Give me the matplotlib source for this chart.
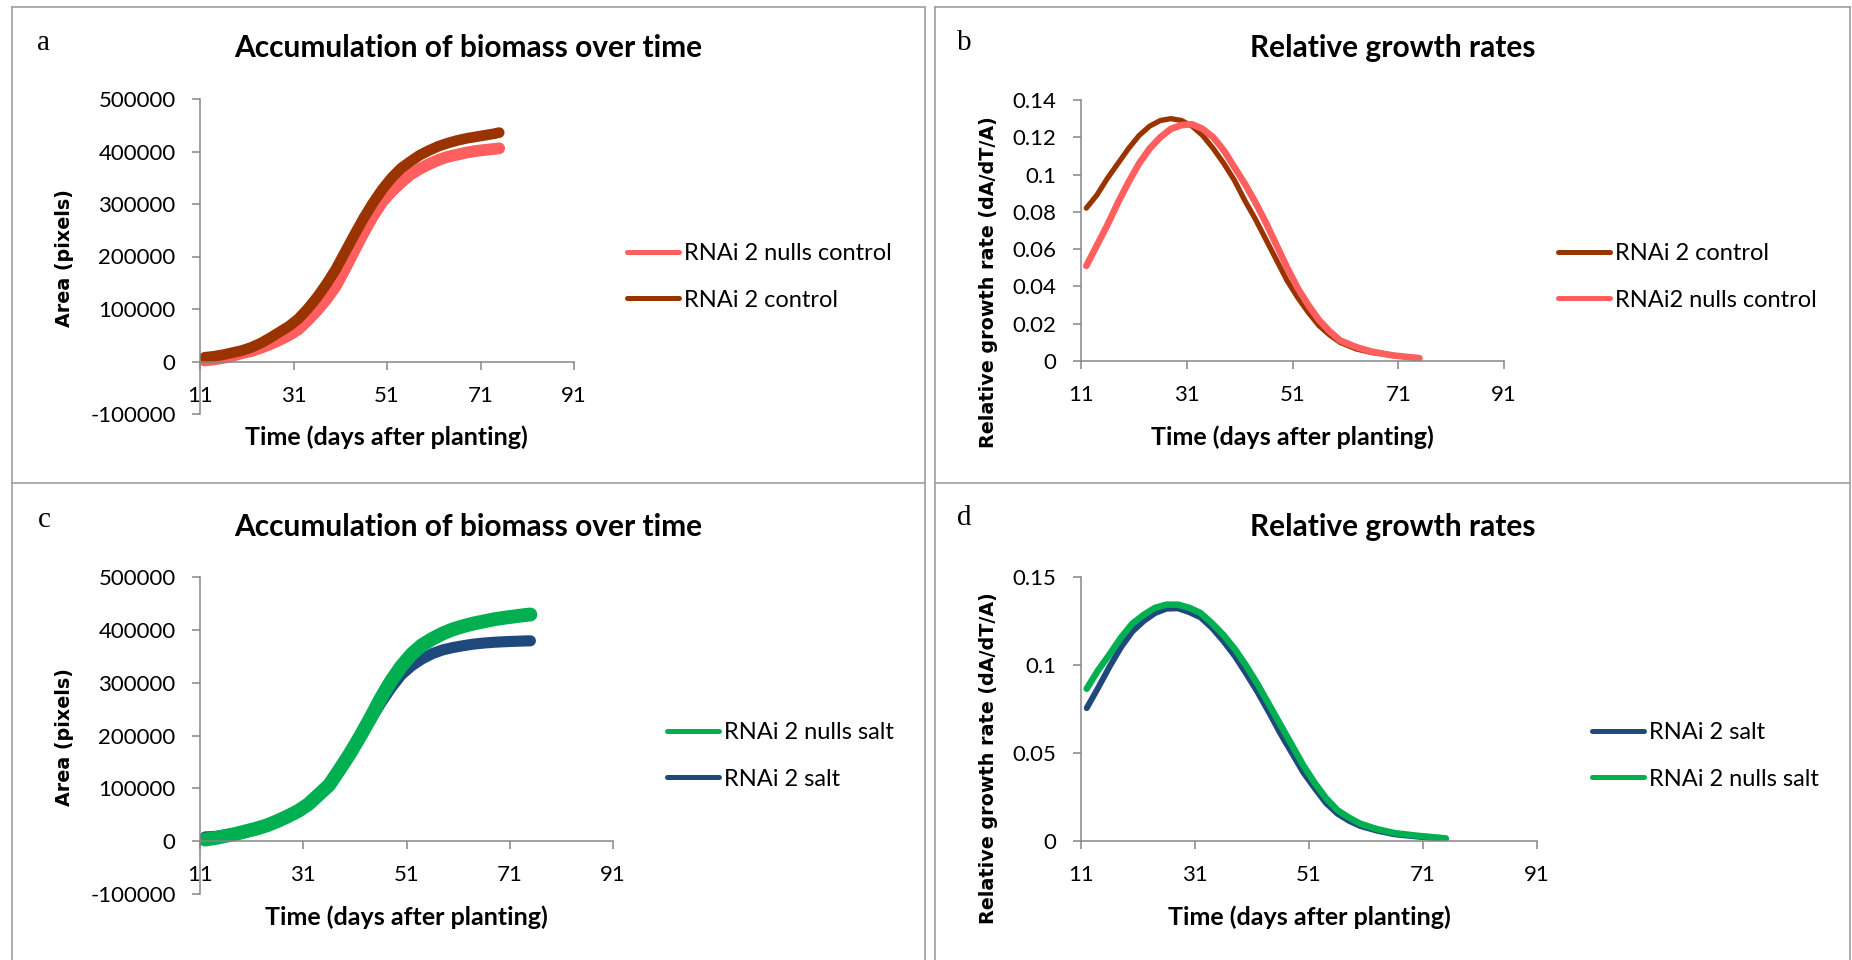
import matplotlib
matplotlib.use("Agg")
import matplotlib.pyplot as plt
from matplotlib.lines import Line2D

plt.rcParams['font.family'] = ['Lato', 'DejaVu Sans']

W, H = 1852, 960

# panel a - biomass, control
days_a = [12, 14, 16, 18, 20, 22, 24, 26, 28, 30, 32, 34, 36, 38, 40, 42, 44, 46, 48, 50,
          52, 54, 56, 58, 60, 62, 64, 66, 68, 70, 72, 74, 75]
area_nulls_control = [2000, 4000, 7000, 11000, 16000, 20000, 26000, 33000, 41000, 50000,
                      61000, 78000, 97000, 118000, 143000, 176000, 211000, 245000, 277000,
                      304000, 324000, 341000, 356000, 367000, 376000, 384000, 390000, 394000,
                      398000, 401000, 403000, 405000, 406000]
area_control = [8000, 10000, 13000, 17000, 21000, 27000, 35000, 45000, 56000, 67000, 81000,
                100000, 122000, 147000, 175000, 208000, 241000, 273000, 302000, 328000,
                350000, 368000, 381000, 393000, 402000, 410000, 416000, 421000, 425000,
                428000, 431000, 434000, 436000]

# panel b - relative growth rate, control
days_b = [12, 14, 16, 18, 20, 22, 24, 26, 28, 30, 32, 34, 36, 38, 40, 42, 44, 46, 48, 50,
          52, 54, 56, 58, 60, 63, 66, 70, 75]
rgr_control = [0.082, 0.089, 0.098, 0.106, 0.114, 0.121, 0.126, 0.129, 0.130, 0.129, 0.126,
               0.121, 0.114, 0.106, 0.097, 0.086, 0.076, 0.065, 0.054, 0.043, 0.034, 0.026,
               0.019, 0.014, 0.010, 0.0065, 0.0045, 0.003, 0.0015]
rgr_nulls_control = [0.051, 0.062, 0.073, 0.085, 0.096, 0.106, 0.114, 0.120, 0.1245, 0.1265,
                     0.127, 0.1245, 0.120, 0.113, 0.104, 0.095, 0.085, 0.074, 0.062, 0.050,
                     0.039, 0.030, 0.022, 0.016, 0.011, 0.0075, 0.005, 0.003, 0.0015]

# panel c - biomass, salt
days_c = [12, 14, 16, 18, 20, 22, 24, 26, 28, 30, 32, 34, 36, 38, 40, 42, 44, 46, 48, 50,
          52, 54, 56, 58, 60, 62, 64, 66, 68, 70, 72, 74, 75]
area_nulls_salt = [3000, 6000, 10000, 14000, 19000, 24000, 30000, 38000, 47000, 57000, 70000,
                   88000, 106000, 135000, 165000, 198000, 233000, 270000, 303000, 331000,
                   354000, 371000, 383000, 393000, 401000, 407000, 412000, 416000, 420000,
                   423000, 425500, 428000, 429000]
area_salt = [8000, 9000, 12000, 15000, 19000, 24000, 30000, 38000, 47000, 57000, 70000, 88000,
             106000, 133000, 163000, 196000, 229000, 261000, 290000, 315000, 332000, 345000,
             355000, 362000, 366500, 370000, 373000, 375000, 376500, 377500, 378300, 379000,
             379200]

# panel d - relative growth rate, salt
days_d = [12, 14, 16, 18, 20, 22, 24, 26, 28, 30, 32, 34, 36, 38, 40, 42, 44, 46, 48, 50,
          52, 54, 56, 58, 60, 63, 66, 70, 75]
rgr_salt = [0.0755, 0.087, 0.099, 0.110, 0.119, 0.125, 0.1295, 0.132, 0.1322, 0.130, 0.127,
            0.121, 0.1135, 0.105, 0.095, 0.0845, 0.073, 0.061, 0.050, 0.039, 0.030, 0.0215,
            0.0155, 0.0115, 0.0085, 0.0058, 0.0038, 0.0025, 0.0012]
rgr_nulls_salt = [0.0865, 0.097, 0.106, 0.1155, 0.1235, 0.1285, 0.1325, 0.1343, 0.1343, 0.1325,
                  0.1295, 0.1237, 0.117, 0.109, 0.0995, 0.089, 0.0775, 0.066, 0.0545, 0.043,
                  0.033, 0.0243, 0.0175, 0.0133, 0.0098, 0.0067, 0.0045, 0.003, 0.0015]

x_ticks = [11, 31, 51, 71, 91]
area_ticks = [-100000, 0, 100000, 200000, 300000, 400000, 500000]
area_labels = ['-100000', '0', '100000', '200000', '300000', '400000', '500000']
rgr_ticks_b = [0, 0.02, 0.04, 0.06, 0.08, 0.1, 0.12, 0.14]
rgr_labels_b = ['0', '0.02', '0.04', '0.06', '0.08', '0.1', '0.12', '0.14']
rgr_ticks_d = [0, 0.05, 0.1, 0.15]
rgr_labels_d = ['0', '0.05', '0.1', '0.15']

BROWN = '#993300'
SALMON = '#FF5F5F'
GREEN = '#00B050'
NAVY = '#1F497D'
AXIS = '#868686'


def fx(px):
    return px / W


def fy(py):
    return 1 - py / H


def box(x0, x1, y0, y1):
    return [fx(x0), fy(y1), fx(x1) - fx(x0), fy(y0) - fy(y1)]


def style(ax, yticks, ylabels):
    ax.set_xlim(11, 91)
    ax.set_ylim(yticks[0], yticks[-1])
    ax.set_xticks(x_ticks)
    ax.set_yticks(yticks)
    ax.set_yticklabels(ylabels)
    ax.spines['top'].set_visible(False)
    ax.spines['right'].set_visible(False)
    ax.spines['bottom'].set_position(('data', 0))
    for s in ['left', 'bottom']:
        ax.spines[s].set_color(AXIS)
        ax.spines[s].set_linewidth(1.1)
    ax.tick_params(direction='out', length=5.5, width=1.1, color=AXIS,
                   labelsize=16, pad=12)


def legend(ax, handles, x, y):
    leg = ax.legend(handles=handles, loc='center left', bbox_to_anchor=(fx(x), fy(y)),
                    bbox_transform=fig.transFigure, frameon=False, fontsize=17,
                    handlelength=2.2, handletextpad=0.22, labelspacing=1.08,
                    borderpad=0, borderaxespad=0)
    for h in leg.get_lines():
        h.set_linewidth(3.6)
        h.set_solid_capstyle('round')


def labels(ax, title, ylabel, tx, ty, yx, yy, xx, xy, letter, lx, ly):
    ax.set_ylabel(ylabel, family='DejaVu Sans', weight='bold', fontsize=13.8, va='center')
    ax.yaxis.set_label_coords(fx(yx), fy(yy), transform=fig.transFigure)
    ax.set_xlabel('Time (days after planting)', weight='bold', fontsize=18, va='center')
    ax.xaxis.set_label_coords(fx(xx), fy(xy), transform=fig.transFigure)
    fig.text(fx(tx), fy(ty), title, weight='bold', fontsize=21.5, ha='center', va='center')
    fig.text(fx(lx), fy(ly), letter, family='Liberation Serif', fontsize=21,
             ha='center', va='center')


fig = plt.figure(figsize=(W / 100, H / 100), dpi=100)

# panel frame lines
for (x0, y0, x1, y1) in [(12, 7, 12, 960), (925, 7, 925, 960), (935, 7, 935, 960),
                         (1850, 7, 1850, 960), (12, 7, 925, 7), (935, 7, 1850, 7),
                         (12, 483, 925, 483), (935, 483, 1850, 483)]:
    fig.add_artist(Line2D([fx(x0), fx(x1)], [fy(y0), fy(y1)], color='#a0a0a0', lw=1.2))

# a
ax = fig.add_axes(box(200, 574, 99, 414))
l1, = ax.plot(days_a, area_nulls_control, color=SALMON, lw=8.5, solid_capstyle='round',
              label='RNAi 2 nulls control')
l2, = ax.plot(days_a, area_control, color=BROWN, lw=7.7, solid_capstyle='round',
              label='RNAi 2 control')
style(ax, area_ticks, area_labels)
legend(ax, [l1, l2], 627, 277)
labels(ax, 'Accumulation of biomass over time', 'Area (pixels)',
       468, 48, 64, 258, 386, 437, 'a', 44, 43)

# b
ax = fig.add_axes(box(1081, 1504, 100, 361))
l1, = ax.plot(days_b, rgr_control, color=BROWN, lw=3.8, solid_capstyle='round',
              label='RNAi 2 control')
l2, = ax.plot(days_b, rgr_nulls_control, color=SALMON, lw=4.8, solid_capstyle='round',
              label='RNAi2 nulls control')
style(ax, rgr_ticks_b, rgr_labels_b)
legend(ax, [l1, l2], 1558, 277)
labels(ax, 'Relative growth rates', 'Relative growth rate (dA/dT/A)',
       1393, 48, 988, 282, 1292, 437, 'b', 964, 43)

# c
ax = fig.add_axes(box(200, 613, 577, 894))
l2, = ax.plot(days_c, area_salt, color=NAVY, lw=8, solid_capstyle='round', label='RNAi 2 salt')
l1, = ax.plot(days_c, area_nulls_salt, color=GREEN, lw=10, solid_capstyle='round',
              label='RNAi 2 nulls salt')
style(ax, area_ticks, area_labels)
legend(ax, [l1, l2], 667, 756)
labels(ax, 'Accumulation of biomass over time', 'Area (pixels)',
       468, 527, 64, 737, 406, 917, 'c', 44, 520)

# d
ax = fig.add_axes(box(1081, 1537, 577, 841))
l1, = ax.plot(days_d, rgr_salt, color=NAVY, lw=4.3, solid_capstyle='round', label='RNAi 2 salt')
l2, = ax.plot(days_d, rgr_nulls_salt, color=GREEN, lw=4.7, solid_capstyle='round',
              label='RNAi 2 nulls salt')
style(ax, rgr_ticks_d, rgr_labels_d)
legend(ax, [l1, l2], 1592, 756)
labels(ax, 'Relative growth rates', 'Relative growth rate (dA/dT/A)',
       1393, 527, 988, 758, 1309, 917, 'd', 964, 518)

fig.savefig('out.png', dpi=100)
